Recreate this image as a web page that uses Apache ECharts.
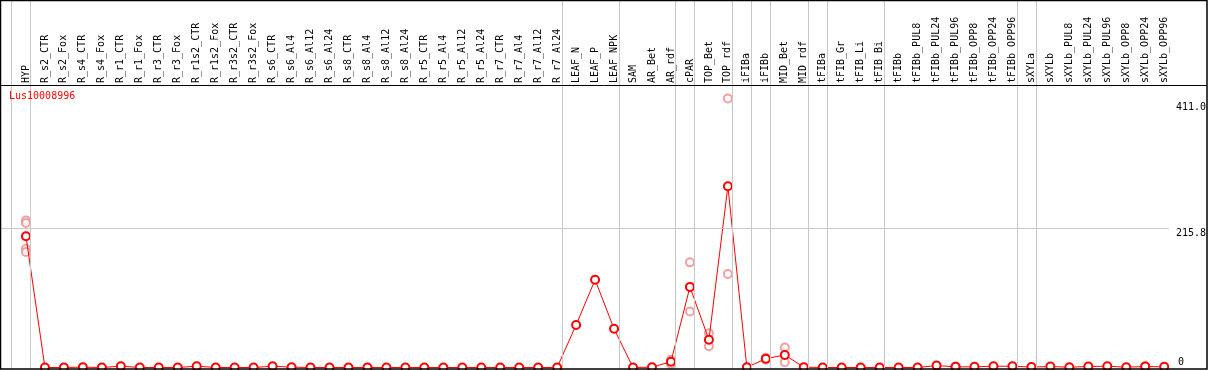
<!DOCTYPE html>
<html>
<head>
<meta charset="utf-8">
<script src="https://cdn.jsdelivr.net/npm/echarts@6/dist/echarts.min.js"></script>
<style>
  html, body { margin: 0; padding: 0; background: #fff; }
  #chart { width: 1209px; height: 370px; }
</style>
</head>
<body>
<div id="chart"></div>
<script>
// 样本名称
var categories = ['HYP', 'R_s2_CTR', 'R_s2_Fox', 'R_s4_CTR', 'R_s4_Fox', 'R_r1_CTR', 'R_r1_Fox',
  'R_r3_CTR', 'R_r3_Fox', 'R_r1s2_CTR', 'R_r1s2_Fox', 'R_r3s2_CTR', 'R_r3s2_Fox',
  'R_s6_CTR', 'R_s6_Al4', 'R_s6_Al12', 'R_s6_Al24', 'R_s8_CTR', 'R_s8_Al4', 'R_s8_Al12', 'R_s8_Al24',
  'R_r5_CTR', 'R_r5_Al4', 'R_r5_Al12', 'R_r5_Al24', 'R_r7_CTR', 'R_r7_Al4', 'R_r7_Al12', 'R_r7_Al24',
  'LEAF_N', 'LEAF_P', 'LEAF_NPK', 'SAM', 'AR_Bet', 'AR_rdf', 'cPAR', 'TOP_Bet', 'TOP_rdf',
  'iFIBa', 'iFIBb', 'MID_Bet', 'MID_rdf', 'tFIBa', 'tFIB_Gr', 'tFIB_Li', 'tFIB_Bi',
  'tFIBb', 'tFIBb_PUL8', 'tFIBb_PUL24', 'tFIBb_PUL96', 'tFIBb_OPP8', 'tFIBb_OPP24', 'tFIBb_OPP96',
  'sXYLa', 'sXYLb', 'sXYLb_PUL8', 'sXYLb_PUL24', 'sXYLb_PUL96', 'sXYLb_OPP8', 'sXYLb_OPP24', 'sXYLb_OPP96'];
// 平均值
var means = [203.5, 0, 0, 0.5, 0, 2, 0, 0, 0, 2, 0, 0, 0,
  2, 0.5, 0, 0, 0, 0, 0, 0, 0, 0, 0, 0, 0, 0, 0, 0,
  66, 136, 60, 0, 0.5, 9, 125, 43, 281,
  0.5, 13.5, 19.5, 0.5, 0, 0, 0, 0,
  0, 0, 3, 1, 1, 2, 2,
  0.7, 1.5, 0.5, 1.5, 2, 0.5, 1.5, 1];
// 重复样本
var repNames = ['HYP', 'AR_rdf', 'cPAR', 'TOP_Bet', 'TOP_rdf', 'iFIBb', 'MID_Bet', 'tFIBb_PUL96', 'sXYLb_OPP24'];
var repValues = [[228, 224, 184, 179], [12, 5], [163, 87], [53, 33], [417, 145], [15, 12], [31, 8], [0.5, 1.5], [1, 2]];
// 分组分隔线（位于该样本之前）
var groupStarts = ['HYP', 'R_s2_CTR', 'LEAF_N', 'SAM', 'cPAR', 'TOP_Bet', 'iFIBa', 'iFIBb', 'MID_Bet',
  'tFIBa', 'tFIB_Gr', 'tFIBb', 'sXYLa', 'sXYLb'];
// 右侧刻度
var tickValues = [215.8, 411.0];
var geneName = 'Lus10008996';

var FONT = 'DejaVu Sans Mono';
var xMin = -1.3158, xMax = 60.247;
var yMin = -2.33, yMax = 569.8;

var meanData = means.map(function (v, i) { return [i, v]; });
var repData = [];
repNames.forEach(function (n, k) {
  var idx = categories.indexOf(n);
  repValues[k].forEach(function (v) { repData.push([idx, v]); });
});
var vLines = groupStarts.map(function (n) {
  return { xAxis: categories.indexOf(n) - 0.7526 };
});
vLines.push({ xAxis: xMax });

var myChart = echarts.init(document.getElementById('chart'));
var option = {
  animation: false,
  title: {
    text: geneName, left: 4, top: 86,
    textStyle: { color: '#ff0000', fontFamily: FONT, fontSize: 10, fontWeight: 'normal' }
  },
  grid: { left: 1, right: 38.3, top: 0, bottom: 1 },
  xAxis: [{
    type: 'value', min: xMin, max: xMax, show: false
  }, {
    type: 'value', min: xMin, max: xMax, position: 'top', offset: -85,
    axisLine: { show: false }, axisTick: { show: false }, splitLine: { show: false },
    axisLabel: {
      customValues: categories.map(function (c, i) { return i; }),
      formatter: function (v) { return categories[v]; },
      rotate: 90, margin: 2, color: '#000', fontFamily: FONT, fontSize: 10
    }
  }],
  yAxis: [{
    type: 'value', min: yMin, max: yMax, position: 'right',
    axisLine: { show: false }, axisTick: { show: false }, splitLine: { show: false },
    axisLabel: {
      customValues: tickValues, formatter: function (v) { return v.toFixed(1); },
      verticalAlign: 'top', margin: 7, color: '#000', fontFamily: FONT, fontSize: 10
    }
  }, {
    type: 'value', min: yMin, max: yMax, position: 'right',
    axisLine: { show: false }, axisTick: { show: false }, splitLine: { show: false },
    axisLabel: {
      customValues: [0], formatter: function (v) { return String(v); },
      verticalAlign: 'bottom', margin: 9, color: '#000', fontFamily: FONT, fontSize: 10
    }
  }],
  series: [{
    type: 'scatter', data: repData, symbol: 'emptyCircle', symbolSize: 8, z: 2,
    itemStyle: { color: '#f08888', borderColor: '#f08888', borderWidth: 1.5 },
    markLine: {
      silent: true, symbol: 'none', label: { show: false },
      lineStyle: { color: '#c8c8c8', width: 1, type: 'solid' },
      data: vLines.concat([{ yAxis: tickValues[0] }])
    }
  }, {
    type: 'line', data: meanData, symbol: 'emptyCircle', symbolSize: 8, z: 3,
    lineStyle: { color: '#ff0000', width: 1 },
    itemStyle: { color: '#ff0000', borderColor: '#ff0000', borderWidth: 1.5 }
  }],
  graphic: [{
    type: 'rect', shape: { x: 0.5, y: 0.5, width: 1206.5, height: 368.5 },
    style: { fill: 'none', stroke: '#000', lineWidth: 1.5 }, z: 100
  }, {
    type: 'line', shape: { x1: 0, y1: 85.5, x2: 1207, y2: 85.5 },
    style: { stroke: '#000', lineWidth: 1 }, z: 100
  }]
};
myChart.setOption(option);
</script>
</body>
</html>
